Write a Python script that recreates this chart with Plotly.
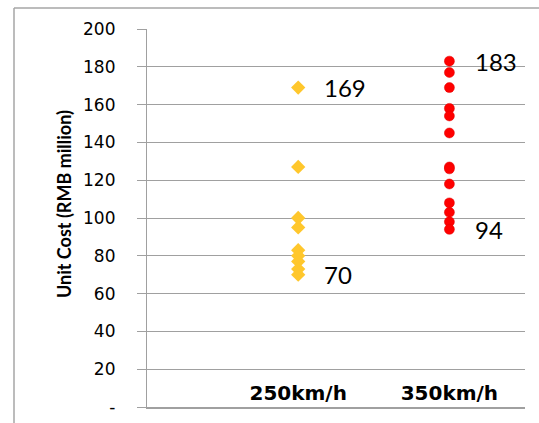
import plotly.graph_objects as go

categories = ["250km/h", "350km/h"]
cat_pos = [1, 2]
cost_250 = [169, 127, 100, 95, 83, 80, 77, 73, 70]
cost_350 = [183, 177, 169, 158, 154, 145, 127, 126, 118, 108, 103, 98, 94]
y_tickvals = [0, 20, 40, 60, 80, 100, 120, 140, 160, 180, 200]
y_ticktext = ["-", "20", "40", "60", "80", "100", "120", "140", "160", "180", "200"]

W, H = 539, 423
ml, mr, mt, mb = 147, 14, 29, 16
pw, ph = W - ml - mr, H - mt - mb
GRID = "#A0A0A0"

fig = go.Figure()
fig.add_trace(go.Scatter(
    x=[cat_pos[0]] * len(cost_250), y=cost_250, mode="markers",
    marker=dict(symbol="diamond", size=11, color="#FFC72C"),
    showlegend=False, hoverinfo="y"))
fig.add_trace(go.Scatter(
    x=[cat_pos[1]] * len(cost_350), y=cost_350, mode="markers",
    marker=dict(symbol="circle", size=10, color="#FF0000",
                line=dict(color="#E00000", width=0.5)),
    showlegend=False, hoverinfo="y"))

for xp, vals in zip(cat_pos, [cost_250, cost_350]):
    for v in (max(vals), min(vals)):
        fig.add_annotation(x=xp, y=v, text=str(v), showarrow=False,
                           xanchor="left", yanchor="middle", xshift=24,
                           font=dict(family="Lato", size=24, color="#000000"))

# y-axis title placed like the original (slightly above plot centre)
fig.add_annotation(xref="paper", yref="paper",
                   x=(64 - ml) / pw, y=(407 - 204) / ph,
                   text="<b>Unit Cost (RMB million)</b>", textangle=-90,
                   showarrow=False, xanchor="center", yanchor="middle",
                   font=dict(family="Lato", size=18, color="#000000",
                             weight="bold"))

# chart area border (left and top)
bx = (14 - ml) / pw
by = 1 + (mt - 8) / ph
fig.add_shape(type="line", xref="paper", yref="paper", x0=bx, x1=bx,
              y0=-0.2, y1=by, line=dict(color="#A6A6A6", width=1.5))
fig.add_shape(type="line", xref="paper", yref="paper", x0=bx, x1=1.2,
              y0=by, y1=by, line=dict(color="#A6A6A6", width=1.5))

fig.update_layout(
    width=W, height=H,
    margin=dict(l=ml, r=mr, t=mt, b=mb, pad=0, autoexpand=False),
    plot_bgcolor="white", paper_bgcolor="white",
    xaxis=dict(range=[0, 2.5], tickvals=cat_pos, ticktext=categories,
               showgrid=False, zeroline=False, showline=False, ticks="",
               anchor="free", position=0.075, automargin=False,
               tickfont=dict(family="DejaVu Sans", size=20, color="#000000",
                             weight="bold"),
               fixedrange=True),
    xaxis2=dict(range=[0, 2.5], overlaying="x", side="bottom",
                anchor="y", showline=True, linecolor=GRID, linewidth=1.5,
                showticklabels=False, ticks="", showgrid=False,
                zeroline=False, automargin=False, fixedrange=True),
    yaxis=dict(range=[0, 200], tickvals=y_tickvals, ticktext=y_ticktext,
               showgrid=True, gridcolor=GRID, gridwidth=1.2,
               zeroline=False, automargin=False,
               showline=True, linecolor=GRID, linewidth=1.2,
               ticks="outside", ticklen=9, tickcolor=GRID,
               ticklabelstandoff=18,
               tickfont=dict(family="DejaVu Sans", size=17, color="#000000"),
               fixedrange=True),
)
# invisible trace to activate the second x axis (baseline)
fig.add_trace(go.Scatter(x=[], y=[], xaxis="x2", yaxis="y",
                         showlegend=False, hoverinfo="skip"))
fig.write_html("out.html", config={"displayModeBar": False},
               post_script="document.body.style.margin='0';document.body.style.overflow='hidden';")
